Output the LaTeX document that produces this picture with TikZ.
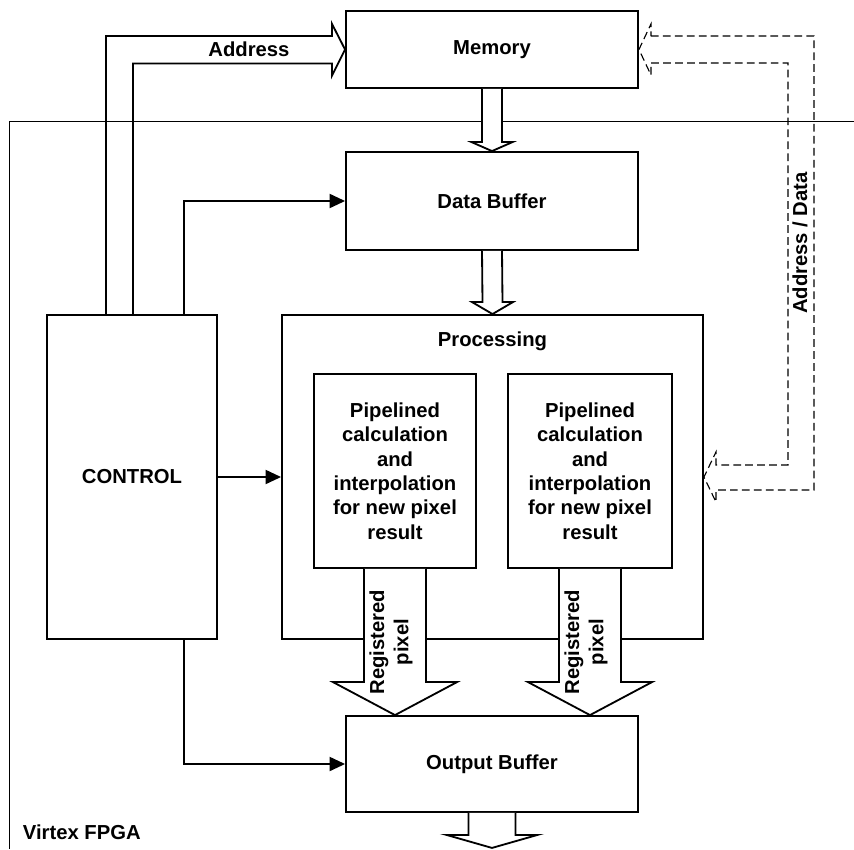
\documentclass[tikz,border=0pt]{standalone}
\usepackage{fontspec}
\setmainfont{Liberation Sans}
\usetikzlibrary{arrows.meta,calc}

% #1 from, #2 tip, #3 half shaft, #4 half head, #5 head length
\newcommand{\fatarrow}[5]{%
  \draw[wire,fill=white] ($(#1)+(-#3,0)$) -- ($(#2)+(-#3,-#5)$) -- ($(#2)+(-#4,-#5)$) -- (#2)
    -- ($(#2)+(#4,-#5)$) -- ($(#2)+(#3,-#5)$) -- ($(#1)+(#3,0)$);}

\begin{document}
\begin{tikzpicture}[x=0.025cm,y=-0.025cm,>={Triangle[length=11pt,width=10pt]},
    every node/.style={font=\fontsize{14.4}{17.3}\selectfont\bfseries},
    box/.style={draw,line width=1.3pt,inner sep=0pt},
    wire/.style={line width=1.3pt}]
    \useasboundingbox (0,0) rectangle (854,849);
    \draw[line width=0.7pt] (854,121) -| (9,849);
    \node[anchor=west] (fpga) at (18,832) {Virtex FPGA};

    \node[box,minimum width=7.3cm,minimum height=1.925cm] (mem) at (492,49.5) {Memory};
    \node[box,minimum width=7.3cm,minimum height=2.45cm] (db) at (492,201) {Data Buffer};
    \node[box,minimum width=10.525cm,minimum height=8.1cm] (proc) at (492.5,477) {};
    \node (proclbl) at ($(proc.north)+(0,27)$) {Processing};
    \node[box,align=center,minimum width=4.05cm,minimum height=4.85cm] (pipe1) at (395,471)
        {Pipelined\\calculation\\and\\interpolation\\for new pixel\\result};
    \node[box,align=center,minimum width=4.1cm,minimum height=4.85cm] (pipe2) at (590,471)
        {Pipelined\\calculation\\and\\interpolation\\for new pixel\\result};
    \node[box,minimum width=4.25cm,minimum height=8.1cm] (ctrl) at (132,477) {CONTROL};
    \node[box,minimum width=7.3cm,minimum height=2.4cm] (out) at (492,764) {Output Buffer};
    \coordinate (res) at ($(out.south)+(0,35)$);

    \fatarrow{mem.south}{db.north}{10}{20.5}{9}
    \fatarrow{db.south}{proc.north}{10}{20.5}{12}
    \fatarrow{pipe1.south}{pipe1.south |- out.north}{31}{62}{33}
    \fatarrow{pipe2.south}{pipe2.south |- out.north}{31}{62}{33}
    \fatarrow{out.south}{res}{23.5}{45.5}{13}
    \node[rotate=90,align=center] (reg1) at ($(pipe1.south)+(-4,73)$) {Registered\\pixel};
    \node[rotate=90,align=center] (reg2) at ($(pipe2.south)+(-4,73)$) {Registered\\pixel};

    \draw[wire] ($(ctrl.north)+(-26,0)$) |- ($(mem.west)+(-13,-13.5)$) -- ++(0,-12) -- (mem.west)
        -- ($(mem.west)+(-13,26)$) -- ++(0,-12) -| ($(ctrl.north)+(1,0)$);
    \node (addr) at (249,49) {Address};

    \draw[dashed,line width=0.8pt,dash pattern=on 5.5pt off 3pt]
        ($(mem.east)+(12,-13.5)$) -| ($(proc.east)+(110,13)$) -- ($(proc.east)+(12,13)$) -- ++(0,12)
        -- (proc.east) -- ($(proc.east)+(12,-25)$) -- ++(0,13) -| ($(mem.east)+(149,13.5)$)
        -- ($(mem.east)+(12,13.5)$) -- ++(0,12) -- (mem.east) -- ($(mem.east)+(12,-25.5)$) -- cycle;
    \node[rotate=90] (ad) at (800,243) {Address / Data};

    \draw[wire,->] ($(ctrl.north)+(52,0)$) |- (db.west);
    \draw[wire,->] (ctrl.east) -- (proc.west);
    \draw[wire,->] ($(ctrl.south)+(52,0)$) |- (out.west);
\end{tikzpicture}
\end{document}
